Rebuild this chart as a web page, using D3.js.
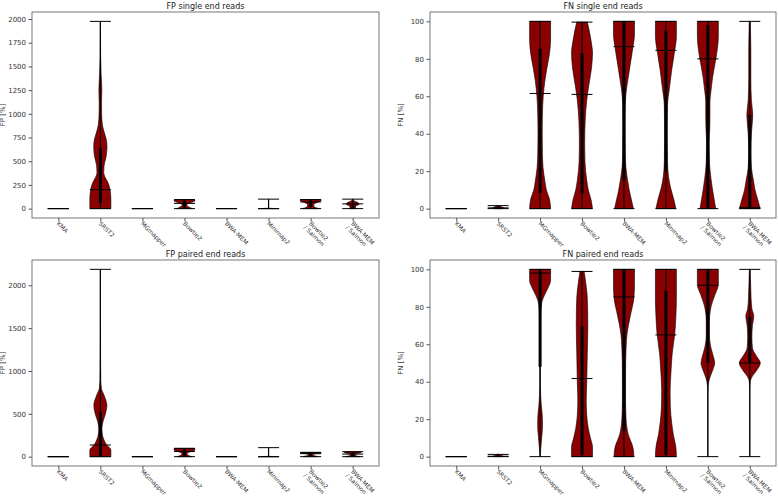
<!DOCTYPE html>
<html>
<head>
<meta charset="utf-8">
<script src="https://cdn.jsdelivr.net/npm/d3@7"></script>
<style>
  body { margin: 0; background: #fff; }
  svg { display: block; font-family: "DejaVu Sans", sans-serif; }
</style>
</head>
<body>
<svg id="chart" width="778" height="497"></svg>
<script>
// tool names on the x axis
var categories = ["KMA", "SRST2", "MGmapper", "Bowtie2", "BWA-MEM", "Minimap2", "Bowtie2\n/ Salmon", "BWA-MEM\n/ Salmon"];

// each row: [min, q1, median, q3, max]
var fpSingleStats = [
	[0, 0, 0, 0, 0],
	[0, 60, 200, 640, 1975],
	[0, 0, 0, 0, 0],
	[0, 10, 55, 85, 95],
	[0, 0, 0, 0, 0],
	[0, 0, 0, 0, 100],
	[0, 15, 70, 88, 95],
	[0, 5, 50, 60, 100]
];
var fnSingleStats = [
	[0, 0, 0, 0, 0],
	[0, 0, 0.4, 0.6, 1.6],
	[0, 8.3, 61.5, 85.3, 100],
	[0, 8, 61, 83, 99.6],
	[0, 15, 86.5, 100, 100],
	[0, 20, 84.5, 95, 100],
	[0, 0.5, 80, 98, 100],
	[0, 0, 0.5, 50, 100]
];
var fpPairedStats = [
	[0, 0, 0, 0, 0],
	[0, 10, 136, 524, 2186],
	[0, 0, 0, 0, 0],
	[0, 5, 60, 85, 97],
	[0, 0, 0, 0, 0],
	[0, 0, 0, 0, 105],
	[0, 5, 35, 45, 50],
	[0, 5, 30, 45, 58]
];
var fnPairedStats = [
	[0, 0, 0, 0, 0],
	[0, 0, 0.2, 0.4, 1.2],
	[0, 48, 98, 100, 100],
	[0, 1, 41.7, 69.6, 98.9],
	[0, 13.7, 85.3, 100, 100],
	[0, 1, 65, 88.5, 100],
	[0, 50, 91.5, 100, 100],
	[0, 50, 50, 74.6, 100]
];

// violin outlines: [value, relative half width]
var fpSingleShapes = [
	[],
	[[0,1],[100,1],[200,0.92],[280,0.7],[330,0.45],[380,0.32],[450,0.35],[550,0.55],[650,0.63],[720,0.58],[800,0.38],[880,0.2],[1000,0.12],[1120,0.11],[1250,0.14],[1400,0.08],[1600,0.03],[1975,0.01]],
	[],
	[[0,0.75],[10,0.55],[25,0.3],[40,0.22],[55,0.35],[70,0.8],[82,1],[90,0.95],[95,0.7]],
	[],
	[[0,0.9],[5,0.05],[15,0.01],[100,0.01]],
	[[0,0.8],[10,0.5],[25,0.3],[45,0.3],[65,0.6],[80,0.95],[90,1],[95,0.9]],
	[[0,0.35],[15,0.25],[30,0.35],[45,0.6],[60,0.55],[75,0.25],[90,0.05],[100,0.02]]
];
var fnSingleShapes = [
	[],
	[[0,0.4],[0.5,0.5],[1,0.3],[1.6,0.1]],
	[[0,1],[5,0.9],[10,0.6],[15,0.45],[22,0.28],[30,0.22],[40,0.2],[50,0.22],[60,0.3],[68,0.45],[75,0.65],[83,0.9],[90,1],[100,1]],
	[[0,1],[5,0.85],[10,0.6],[15,0.45],[25,0.28],[35,0.25],[47,0.3],[58,0.45],[66,0.65],[75,0.9],[83,1],[90,0.85],[96,0.65],[99.6,0.5]],
	[[0,0.9],[5,0.7],[10,0.5],[15,0.35],[22,0.18],[30,0.12],[45,0.1],[55,0.12],[62,0.2],[68,0.35],[77,0.6],[86,0.85],[93,1],[100,1]],
	[[0,0.95],[5,0.75],[11,0.45],[17,0.25],[25,0.15],[40,0.12],[55,0.15],[65,0.35],[74,0.55],[83,0.8],[92,1],[100,1]],
	[[0,0.75],[5,0.6],[10,0.45],[16,0.3],[25,0.15],[35,0.12],[43,0.18],[50,0.2],[57,0.2],[63,0.3],[70,0.45],[78,0.7],[85,0.9],[92,1],[100,1]],
	[[0,1],[5,0.75],[10,0.5],[15,0.35],[22,0.15],[30,0.1],[40,0.15],[50,0.28],[58,0.15],[70,0.1],[85,0.1],[95,0.07],[100,0.05]]
];
var fpPairedShapes = [
	[],
	[[0,1],[80,1],[136,0.6],[194,0.35],[252,0.2],[330,0.15],[408,0.25],[485,0.45],[600,0.62],[718,0.35],[796,0.1],[900,0.04],[1200,0.02],[2186,0.01]],
	[],
	[[0,0.7],[10,0.45],[25,0.28],[40,0.25],[55,0.5],[70,0.9],[85,1],[97,0.95]],
	[],
	[[0,0.9],[5,0.05],[15,0.01],[105,0.01]],
	[[0,0.7],[10,0.4],[20,0.2],[30,0.3],[40,0.8],[46,1],[50,0.9]],
	[[0,0.7],[12,0.3],[25,0.2],[35,0.35],[45,0.75],[52,0.8],[58,0.6]]
];
var fnPairedShapes = [
	[],
	[[0,0.4],[0.4,0.45],[0.8,0.25],[1.2,0.1]],
	[[0,0.02],[4,0.06],[10,0.15],[16,0.23],[21,0.22],[27,0.12],[33,0.05],[40,0.03],[60,0.03],[75,0.05],[82,0.15],[86,0.4],[90,0.75],[94,1],[100,1]],
	[[0,1],[5,1],[10,0.8],[15,0.6],[22,0.45],[30,0.4],[40,0.45],[55,0.5],[70,0.55],[85,0.5],[93,0.35],[98.9,0.2]],
	[[0,0.95],[5,0.85],[12,0.4],[20,0.2],[30,0.15],[45,0.15],[58,0.2],[66,0.3],[75,0.6],[85,0.95],[92,1],[100,1]],
	[[0,1],[5,0.95],[12,0.7],[18,0.55],[27,0.42],[35,0.4],[45,0.48],[55,0.6],[66,0.85],[75,0.95],[85,1],[100,1]],
	[[0,0.01],[30,0.01],[38,0.04],[42,0.18],[46,0.45],[50,0.65],[53,0.55],[58,0.3],[65,0.15],[72,0.15],[80,0.3],[86,0.65],[92,1],[100,1]],
	[[0,0.01],[35,0.01],[40,0.05],[43,0.25],[46,0.65],[50,1],[54,0.6],[58,0.25],[64,0.2],[70,0.25],[75,0.38],[79,0.2],[85,0.12],[92,0.08],[100,0.04]]
];

var fpSingleTicks = [0, 250, 500, 750, 1000, 1250, 1500, 1750, 2000];
var fpPairedTicks = [0, 500, 1000, 1500, 2000];
var fnTicks = [0, 20, 40, 60, 80, 100];

var panels = [
	{ title: "FP single end reads", ylabel: "FP [%]", stats: fpSingleStats, shapes: fpSingleShapes, ticks: fpSingleTicks, domain: [-99, 2074], x: 32, y: 12, w: 347, h: 206 },
	{ title: "FN single end reads", ylabel: "FN [%]", stats: fnSingleStats, shapes: fnSingleShapes, ticks: fnTicks, domain: [-5, 105], x: 430, y: 12, w: 346, h: 206 },
	{ title: "FP paired end reads", ylabel: "FP [%]", stats: fpPairedStats, shapes: fpPairedShapes, ticks: fpPairedTicks, domain: [-109, 2295], x: 32, y: 260, w: 347, h: 206 },
	{ title: "FN paired end reads", ylabel: "FN [%]", stats: fnPairedStats, shapes: fnPairedShapes, ticks: fnTicks, domain: [-5, 105], x: 430, y: 260, w: 346, h: 206 }
];

var svg = d3.select("#chart");
var violinFill = "#8b0000";

panels.forEach(function(p) {
	var g = svg.append("g").attr("transform", "translate(" + p.x + "," + p.y + ")");

	var x = d3.scaleLinear().domain([0.375, 8.625]).range([0, p.w]);
	var y = d3.scaleLinear().domain(p.domain).range([p.h, 0]);
	var half = x(1.25) - x(1); // 0.25 data units

	// violins
	var area = d3.area()
		.curve(d3.curveMonotoneY)
		.y(function(d) { return y(d[0]); });

	p.shapes.forEach(function(shape, i) {
		if (!shape.length) return;
		var cx = x(i + 1);
		g.append("path")
			.datum(shape)
			.attr("d", area
				.x0(function(d) { return cx - d[1] * half; })
				.x1(function(d) { return cx + d[1] * half; }))
			.attr("fill", violinFill)
			.attr("stroke", "#000")
			.attr("stroke-width", 0.6);
	});

	p.stats.forEach(function(s, i) {
		var cx = x(i + 1);
		// min-max bar
		g.append("line")
			.attr("x1", cx).attr("x2", cx)
			.attr("y1", y(s[0])).attr("y2", y(s[4]))
			.attr("stroke", "#000").attr("stroke-width", 1);
		// interquartile range
		if (s[3] > s[1]) {
			g.append("line")
				.attr("x1", cx).attr("x2", cx)
				.attr("y1", y(s[1])).attr("y2", y(s[3]))
				.attr("stroke", "#000").attr("stroke-width", 3);
		}
		// caps and median
		[s[0], s[2], s[4]].forEach(function(v) {
			g.append("line")
				.attr("x1", cx - half).attr("x2", cx + half)
				.attr("y1", y(v)).attr("y2", y(v))
				.attr("stroke", "#000").attr("stroke-width", 1);
		});
	});

	// frame
	g.append("rect")
		.attr("width", p.w).attr("height", p.h)
		.attr("fill", "none").attr("stroke", "#555").attr("stroke-width", 0.8);

	// y axis
	var yAxis = g.append("g")
		.call(d3.axisLeft(y).tickValues(p.ticks).tickFormat(d3.format("d")).tickSize(3.5).tickPadding(2.5));
	yAxis.select(".domain").remove();
	yAxis.selectAll("line").attr("stroke", "#555");
	yAxis.selectAll("text").attr("font-size", 7).attr("fill", "#333")
		.attr("font-family", "DejaVu Sans, sans-serif");

	// x axis
	var xAxis = g.append("g").attr("transform", "translate(0," + p.h + ")")
		.call(d3.axisBottom(x).tickValues(d3.range(1, 9)).tickSize(3.5).tickFormat(""));
	xAxis.select(".domain").remove();
	xAxis.selectAll("line").attr("stroke", "#555");

	categories.forEach(function(c, i) {
		var lines = c.split("\n");
		var t = g.append("text")
			.attr("transform", "translate(" + (x(i + 1) - 2) + "," + (p.h + 6) + ") rotate(45)")
			.attr("font-size", 6)
			.attr("fill", "#333")
			.attr("dy", "0.7em");
		lines.forEach(function(l, k) {
			t.append("tspan").attr("x", k ? -1 : 0).attr("dy", k ? "1.1em" : 0).text(l);
		});
	});

	// title and y label
	g.append("text")
		.attr("x", p.w / 2).attr("y", -3.5)
		.attr("text-anchor", "middle")
		.attr("font-size", 8).attr("fill", "#222")
		.text(p.title);

	g.append("text")
		.attr("transform", "translate(" + (-27) + "," + (p.h / 2) + ") rotate(-90)")
		.attr("text-anchor", "middle")
		.attr("font-size", 7).attr("fill", "#333")
		.text(p.ylabel);
});
</script>
</body>
</html>
